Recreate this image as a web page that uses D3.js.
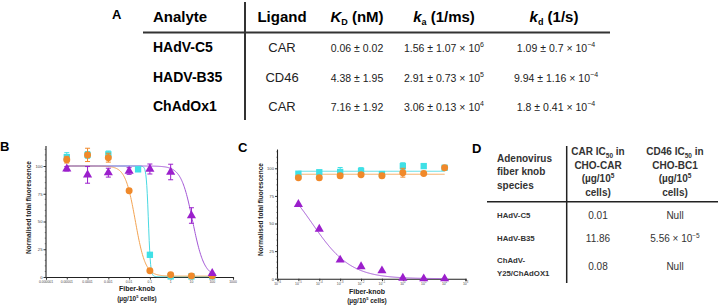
<!DOCTYPE html>
<html><head><meta charset="utf-8">
<script src="https://cdn.jsdelivr.net/npm/d3@7"></script>
<style>
html,body{margin:0;padding:0;background:#fff;}
svg{display:block;}
text{font-family:"Liberation Sans",Arial,sans-serif;}
</style></head>
<body><svg id="chart" width="720" height="306"></svg>
<script>
// ---------- Panel A data ----------
const aHeaders = ["Analyte","Ligand"];
const aAnalytes = ["HAdV-C5","HADV-B35","ChAdOx1"];
const aLigands = ["CAR","CD46","CAR"];
const aKD = ["0.06 ± 0.02","4.38 ± 1.95","7.16 ± 1.92"];
const aKaBase = ["1.56 ± 1.07 × 10","2.91 ± 0.73 × 10","3.06 ± 0.13 × 10"];
const aKaExp = ["6","5","4"];
const aKdBase = ["1.09 ± 0.7 × 10","9.94 ± 1.16 × 10","1.8 ± 0.41 × 10"];
const aKdExp = ["−4","−4","−4"];

// ---------- Panel B data ----------
const bX = [1e-5,1e-4,1e-3,1e-2,1e-1,1,10,100];
const bCyanX = [1e-5,1e-4,1e-3,0.027,1e-1,1,10,100];
const bCyan = [108,110,110.5,97,20,0.5,0.5,0.5];
const bCyanErr = [4,3,3,2,2,0,0,0];
const bOrange = [105.7,110,107.5,77.7,5.7,2,1,1];
const bOrangeErr = [3,6,4,1,1,0,0,0];
const bPurple = [97.5,92,94,95.5,97.3,94.6,55.4,3.3];
const bPurpleErr = [2,7.5,4,3,4.5,7,7,0];
// fitted 4PL curve parameters [top, bottom, IC50, hill]
const bCyanFit = [100,0.3,0.085,8.5];
const bOrangeFit = [100,0.8,0.02,1.8];
const bPurpleFit = [100,0,11.5,1.56];

// ---------- Panel C data ----------
const cX = [1e-5,1e-4,1e-3,1e-2,1e-1,1,10,100];
const cCyan = [95.1,96.4,96.7,97.6,94.8,102,102,100.5];
const cCyanErr = [2,2,4,3,1,3,2,1];
const cOrange = [91.5,91.5,93.3,94.2,93.3,96,95.3,100.5];
const cOrangeErr = [1.5,2,2,1,2,4,1,1];
const cPurple = [67.4,45,17,11,7.3,0.6,0,0];
const cPurpleErr = [0,0,0,0,0,0,0,0];
const cCyanFit = [97.3,97.3,1,1];
const cOrangeFit = [94.6,94.6,1,1];
const cPurpleFit = [100,0,4.6e-5,0.47];

// ---------- Axis ticks ----------
const xTickVals = [1e-6,1e-5,1e-4,1e-3,1e-2,1e-1,1,10,100,1000];
const bXTickLabels = ["0.000001","0.00001","0.0001","0.001","0.01","0.1","1","10","100","1000"];
const cXTickExp = ["−6","−5","−4","−3","−2","−1","0","1","2","3"];
const yTickVals = [0,25,50,75,100];

// ---------- Panel D data ----------
const dHead1 = ["Adenovirus","fiber knob","species"];
const dHead2 = [["CAR IC","50"," in"],["CHO-CAR"],["(µg/10","5"],["cells)"]];
const dHead3 = [["CD46 IC","50"," in"],["CHO-BC1"],["(µg/10","5"],["cells)"]];
const dSpecies = [["HAdV-C5"],["HAdV-B35"],["ChAdV-","Y25/ChAdOX1"]];
const dCAR = ["0.01","11.86","0.08"];
const dCD46Base = ["Null","5.56 × 10","Null"];
const dCD46Exp = ["","−5",""];

const colCyan = "#3fe0e6", colOrange = "#f0892a", colPurple = "#9b1fcc";
const lineCyan = "#49d9e2", lineOrange = "#f3a352", linePurple = "#a356d6";

const svg = d3.select("#chart");

// ================= Panel A =================
const A = svg.append("g");
A.append("text").attr("x",112).attr("y",19).attr("font-size",13).attr("font-weight","bold").text("A");
const aRowY = [52,82,111];
const hdrY = 22;
A.append("text").attr("x",153).attr("y",hdrY).attr("font-size",15).attr("font-weight","bold").text(aHeaders[0]);
A.append("text").attr("x",282).attr("y",hdrY).attr("font-size",15).attr("font-weight","bold").attr("text-anchor","middle").text(aHeaders[1]);
function kHeader(x, letter, sub, rest){
  const t = A.append("text").attr("x",x).attr("y",hdrY).attr("font-size",15).attr("font-weight","bold").attr("text-anchor","middle");
  t.append("tspan").attr("font-style","italic").text(letter);
  t.append("tspan").attr("font-size",9).attr("dy",3).text(sub);
  t.append("tspan").attr("dy",-3).text(rest);
}
kHeader(357,"K","D"," (nM)");
kHeader(444,"k","a"," (1/ms)");
kHeader(554,"k","d"," (1/s)");
A.append("line").attr("x1",143).attr("x2",610).attr("y1",32.5).attr("y2",32.5).attr("stroke","#333").attr("stroke-width",2);
A.append("line").attr("x1",245).attr("x2",245).attr("y1",2).attr("y2",120).attr("stroke","#333").attr("stroke-width",2);
aAnalytes.forEach((s,i)=>{
  A.append("text").attr("x",153).attr("y",aRowY[i]).attr("font-size",14).attr("font-weight","bold").text(s);
  A.append("text").attr("x",282).attr("y",aRowY[i]).attr("font-size",13).attr("text-anchor","middle").attr("fill","#222").text(aLigands[i]);
  A.append("text").attr("x",357).attr("y",aRowY[i]).attr("font-size",10.5).attr("text-anchor","middle").attr("fill","#222").text(aKD[i]);
  const t1 = A.append("text").attr("x",444).attr("y",aRowY[i]).attr("font-size",10.5).attr("text-anchor","middle").attr("fill","#222");
  t1.append("tspan").text(aKaBase[i]); t1.append("tspan").attr("font-size",7).attr("dy",-5).text(aKaExp[i]);
  const t2 = A.append("text").attr("x",556).attr("y",aRowY[i]).attr("font-size",10.5).attr("text-anchor","middle").attr("fill","#222");
  t2.append("tspan").text(aKdBase[i]); t2.append("tspan").attr("font-size",7).attr("dy",-5).text(aKdExp[i]);
});

// ================= Plot helper =================
function hill(x,p){ return p[1] + (p[0]-p[1])/(1+Math.pow(x/p[2],p[3])); }

function drawPanel(cfg){
  const g = svg.append("g");
  const x = d3.scaleLog().domain([1e-6,1e3]).range([cfg.x0,cfg.x1]);
  const y = d3.scaleLinear().domain([0,100]).range([cfg.y0,cfg.y100]);
  const yAx = g.append("g").attr("transform",`translate(${cfg.x0},0)`)
    .call(d3.axisLeft(y).tickValues(yTickVals).tickSize(2.5).tickFormat(d3.format("d")));
  yAx.select(".domain").remove();
  yAx.selectAll("text").attr("font-size",4.2).attr("fill","#444").attr("x",-3.5);
  yAx.selectAll("line").attr("stroke","#333");
  const minor = d3.range(5,120,5).filter(v=>v%25!==0);
  g.append("g").selectAll("line").data(minor).join("line")
    .attr("x1",cfg.x0-1.3).attr("x2",cfg.x0).attr("y1",d=>y(d)).attr("y2",d=>y(d)).attr("stroke","#555").attr("stroke-width",0.6);
  g.append("line").attr("x1",cfg.x0).attr("x2",cfg.x0).attr("y1",cfg.y0).attr("y2",y(cfg.yTop)).attr("stroke","#222").attr("stroke-width",1.1);
  const xAx = g.append("g").attr("transform",`translate(0,${cfg.y0})`)
    .call(d3.axisBottom(x).tickValues(xTickVals).tickSize(2.5).tickFormat(""));
  xAx.select(".domain").attr("stroke","#222").attr("stroke-width",1.1);
  xAx.selectAll("line").attr("stroke","#333");
  xTickVals.forEach((v,i)=>{
    const t = g.append("text").attr("x",x(v)).attr("y",cfg.y0+5.8).attr("text-anchor","middle")
      .attr("font-size",cfg.tickFont).attr("fill","#444");
    cfg.label(t,i);
  });
  g.append("text").attr("x",cfg.titleX).attr("y",cfg.y0+cfg.t1).attr("text-anchor","middle")
    .attr("font-size",7).attr("font-weight","bold").attr("fill","#222").text("Fiber-knob");
  const st = g.append("text").attr("x",cfg.titleX).attr("y",cfg.y0+cfg.t2).attr("text-anchor","middle")
    .attr("font-size",6.5).attr("font-weight","bold").attr("fill","#222");
  st.append("tspan").text("(µg/10"); st.append("tspan").attr("font-size",4).attr("dy",-3).text("5");
  st.append("tspan").attr("dy",3).text(" cells)");
  g.append("text").attr("transform",`translate(${cfg.x0-15},${(cfg.y0+y(100))/2-14}) rotate(-90)`)
    .attr("text-anchor","middle").attr("font-size",6.5).attr("font-weight","bold").attr("fill","#222")
    .text("Normalised total fluorescence");
  const line = d3.line().x(d=>x(d[0])).y(d=>y(d[1]));
  cfg.series.forEach(s=>{
    const xs = d3.range(0,301).map(i=>Math.pow(10, Math.log10(s.fitX[0]) + i*(Math.log10(s.fitX[1])-Math.log10(s.fitX[0]))/300));
    g.append("path").datum(xs.map(v=>[v,hill(v,s.fit)])).attr("d",line)
      .attr("fill","none").attr("stroke",s.line).attr("stroke-width",1);
  });
  cfg.series.forEach(s=>{
    s.xs.forEach((xv,i)=>{
      const e = s.err[i];
      if(e>0){
        const cx = x(xv);
        g.append("line").attr("x1",cx).attr("x2",cx).attr("y1",y(s.vals[i]-e)).attr("y2",y(s.vals[i]+e)).attr("stroke",s.color).attr("stroke-width",1);
        [s.vals[i]-e,s.vals[i]+e].forEach(v=>g.append("line").attr("x1",cx-2.5).attr("x2",cx+2.5).attr("y1",y(v)).attr("y2",y(v)).attr("stroke",s.color).attr("stroke-width",1));
      }
    });
    const sym = d3.symbol().type(s.shape).size(s.size);
    g.append("g").selectAll("path").data(s.xs.map((xv,i)=>[xv,s.vals[i]])).join("path")
      .attr("transform",d=>`translate(${x(d[0])},${y(d[1])})`).attr("d",sym).attr("fill",s.color);
  });
}

drawPanel({
  x0:46,x1:233,y0:277,y100:166,yTop:118,tickFont:3.4,titleX:137,t1:13.5,t2:24,
  label:(t,i)=>t.text(bXTickLabels[i]),
  series:[
    {xs:bCyanX,vals:bCyan,err:bCyanErr,fit:bCyanFit,fitX:[1e-5,100],color:colCyan,line:lineCyan,shape:d3.symbolSquare,size:40},
    {xs:bX,vals:bOrange,err:bOrangeErr,fit:bOrangeFit,fitX:[1e-5,100],color:colOrange,line:lineOrange,shape:d3.symbolCircle,size:38},
    {xs:bX,vals:bPurple,err:bPurpleErr,fit:bPurpleFit,fitX:[1e-5,100],color:colPurple,line:linePurple,shape:d3.symbolTriangle,size:36}
  ]
});
drawPanel({
  x0:277.5,x1:465.5,y0:278.7,y100:168.3,yTop:117,tickFont:3.4,titleX:367,t1:15,t2:24,
  label:(t,i)=>{t.append("tspan").text("10"); t.append("tspan").attr("font-size",2.6).attr("dy",-1.6).text(cXTickExp[i]);},
  series:[
    {xs:cX,vals:cCyan,err:cCyanErr,fit:cCyanFit,fitX:[1e-5,100],color:colCyan,line:lineCyan,shape:d3.symbolSquare,size:40},
    {xs:cX,vals:cOrange,err:cOrangeErr,fit:cOrangeFit,fitX:[1e-5,100],color:colOrange,line:lineOrange,shape:d3.symbolCircle,size:38},
    {xs:cX,vals:cPurple,err:cPurpleErr,fit:cPurpleFit,fitX:[1e-5,100],color:colPurple,line:linePurple,shape:d3.symbolTriangle,size:36}
  ]
});
svg.append("text").attr("x",0).attr("y",151).attr("font-size",13).attr("font-weight","bold").text("B");
svg.append("text").attr("x",238).attr("y",152).attr("font-size",13).attr("font-weight","bold").text("C");

// ================= Panel D =================
const D = svg.append("g").attr("font-family","Lato, 'Open Sans', sans-serif");
D.append("text").attr("x",472).attr("y",153).attr("font-size",13).attr("font-weight","bold").attr("font-family","Liberation Sans, Arial").text("D");
D.append("line").attr("x1",566.7).attr("x2",566.7).attr("y1",146).attr("y2",283).attr("stroke","#222").attr("stroke-width",1.5);
D.append("line").attr("x1",487).attr("x2",718).attr("y1",201.7).attr("y2",201.7).attr("stroke","#222").attr("stroke-width",1.5);
const dHeadY = [161.5,175,188.5];
dHead1.forEach((s,i)=>D.append("text").attr("x",497).attr("y",dHeadY[i]).attr("font-size",10).attr("font-weight","bold").attr("fill","#333").text(s));
function dHeadCol(cx, lines){
  const ys = [155,168.5,182,195.5];
  lines.forEach((parts,i)=>{
    const t = D.append("text").attr("x",cx).attr("y",ys[i]).attr("font-size",10).attr("font-weight","bold").attr("fill","#333").attr("text-anchor","middle");
    if(parts.length===3){ t.append("tspan").text(parts[0]); t.append("tspan").attr("font-size",6.5).attr("dy",2.5).text(parts[1]); t.append("tspan").attr("dy",-2.5).text(parts[2]); }
    else if(parts.length===2){ t.append("tspan").text(parts[0]); t.append("tspan").attr("font-size",6.5).attr("dy",-4).text(parts[1]); }
    else t.text(parts[0]);
  });
}
dHeadCol(598,dHead2);
dHeadCol(675,dHead3);
const dRowY = [218,241,269];
dSpecies.forEach((lines,i)=>{
  lines.forEach((s,j)=>{
    const yy = lines.length===1 ? dRowY[i] : dRowY[i]-6.5+j*13;
    D.append("text").attr("x",497).attr("y",yy).attr("font-size",7.8).attr("font-weight","bold").attr("fill","#333").text(s);
  });
  D.append("text").attr("x",598).attr("y",dRowY[i]+1).attr("font-size",10).attr("text-anchor","middle").attr("fill","#333").text(dCAR[i]);
  const t = D.append("text").attr("x",675).attr("y",dRowY[i]+1).attr("font-size",10).attr("text-anchor","middle").attr("fill","#333");
  t.append("tspan").text(dCD46Base[i]);
  if(dCD46Exp[i]) t.append("tspan").attr("font-size",6.5).attr("dy",-4).text(dCD46Exp[i]);
});
</script></body></html>
